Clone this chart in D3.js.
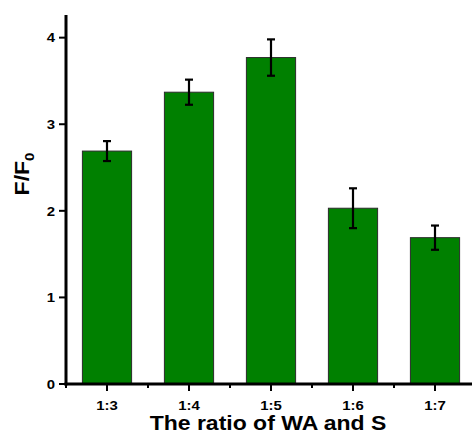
<!DOCTYPE html>
<html>
<head>
<meta charset="utf-8">
<script src="https://cdn.jsdelivr.net/npm/d3@7"></script>
<style>
  html, body { margin: 0; padding: 0; background: #fff; }
  svg { display: block; }
  text { font-family: "Liberation Sans", Arial, sans-serif; font-weight: bold; fill: #000; }
</style>
</head>
<body>
<script>
// Fluorescence ratio F/F0 for each WA:S ratio
const categories = ["1:3", "1:4", "1:5", "1:6", "1:7"];
const values = [2.69, 3.37, 3.77, 2.03, 1.69];
const errors = [0.115, 0.145, 0.21, 0.23, 0.14];
const yTicks = [0, 1, 2, 3, 4];
const yMax = 4.25;

const W = 472, H = 434;
const plotLeft = 66, plotRight = 476, plotTop = 16, plotBottom = 384;
const stretch = 1.15; // horizontal glyph widening

const svg = d3.select("body").append("svg")
  .attr("width", W).attr("height", H);

const x = d3.scaleBand()
  .domain(categories)
  .range([plotLeft, plotRight])
  .paddingInner(0.4)
  .paddingOuter(0.2);

const y = d3.scaleLinear().domain([0, yMax]).range([plotBottom, plotTop]);

// bars
svg.append("g").selectAll("rect")
  .data(categories)
  .join("rect")
  .attr("x", d => x(d))
  .attr("y", (d, i) => y(values[i]))
  .attr("width", x.bandwidth())
  .attr("height", (d, i) => y(0) - y(values[i]))
  .attr("fill", "#008000")
  .attr("stroke", "#2b2b2b")
  .attr("stroke-width", 1);

// error bars
const eb = svg.append("g").attr("stroke", "#000").attr("stroke-width", 2.2);
categories.forEach((c, i) => {
  const cx = x(c) + x.bandwidth() / 2;
  const hi = y(values[i] + errors[i]), lo = y(values[i] - errors[i]);
  eb.append("line").attr("x1", cx).attr("x2", cx).attr("y1", hi).attr("y2", lo);
  eb.append("line").attr("x1", cx - 4).attr("x2", cx + 4).attr("y1", hi).attr("y2", hi);
  eb.append("line").attr("x1", cx - 4).attr("x2", cx + 4).attr("y1", lo).attr("y2", lo);
});

// y axis
const yAxis = svg.append("g");
yAxis.append("line")
  .attr("x1", plotLeft).attr("x2", plotLeft)
  .attr("y1", plotTop - 1).attr("y2", plotBottom + 1.5)
  .attr("stroke", "#000").attr("stroke-width", 3);
yTicks.forEach(t => {
  yAxis.append("line")
    .attr("x1", plotLeft - 7).attr("x2", plotLeft)
    .attr("y1", y(t)).attr("y2", y(t))
    .attr("stroke", "#000").attr("stroke-width", 2);
  yAxis.append("g")
    .attr("transform", `translate(${plotLeft - 11},${y(t)}) scale(${stretch},1)`)
    .append("text")
    .attr("text-anchor", "end")
    .attr("dy", "0.36em")
    .attr("font-size", 13)
    .text(t);
});

// x axis
const xAxis = svg.append("g");
xAxis.append("line")
  .attr("x1", plotLeft - 1.5).attr("x2", W)
  .attr("y1", plotBottom).attr("y2", plotBottom)
  .attr("stroke", "#000").attr("stroke-width", 3);
categories.forEach((c, i) => {
  const cx = x(c) + x.bandwidth() / 2;
  xAxis.append("line")
    .attr("x1", cx).attr("x2", cx)
    .attr("y1", plotBottom).attr("y2", plotBottom + 7)
    .attr("stroke", "#000").attr("stroke-width", 2);
  // minor tick at band boundary
  const bx = cx - x.step() / 2;
  xAxis.append("line")
    .attr("x1", bx).attr("x2", bx)
    .attr("y1", plotBottom).attr("y2", plotBottom + 4)
    .attr("stroke", "#000").attr("stroke-width", 2);
  xAxis.append("g")
    .attr("transform", `translate(${cx},${plotBottom + 25.5}) scale(${stretch},1)`)
    .append("text")
    .attr("text-anchor", "middle")
    .attr("font-size", 13)
    .text(c);
});

// axis titles
svg.append("g")
  .attr("transform", `translate(${(plotLeft + plotRight) / 2 - 3},${430}) scale(${stretch},1)`)
  .append("text")
  .attr("text-anchor", "middle")
  .attr("font-size", 20)
  .text("The ratio of WA and S");

const yt = svg.append("g")
  .attr("transform", `translate(28.5,${174}) rotate(-90) scale(${stretch},1)`)
  .append("text")
  .attr("text-anchor", "middle")
  .attr("font-size", 20);
yt.append("tspan").text("F/F");
yt.append("tspan").attr("font-size", 13).attr("dy", 5).text("0");
</script>
</body>
</html>
